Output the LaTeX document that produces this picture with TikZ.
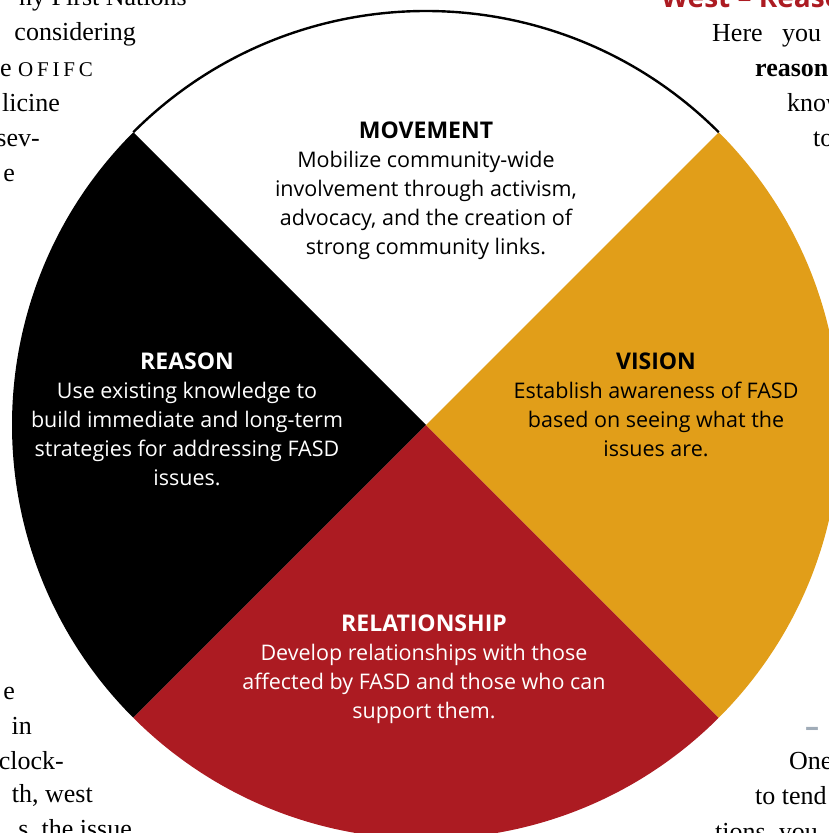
\documentclass[tikz,border=0pt]{standalone}
\usepackage{fontspec}
\usetikzlibrary{calc}
\setmainfont{Liberation Serif}
\newfontfamily\wheelfont{Open Sans}
\definecolor{wgold}{RGB}{225,158,25}
\definecolor{wred}{RGB}{172,27,34}
\definecolor{hred}{RGB}{172,27,34}
\definecolor{dashgray}{RGB}{160,172,184}
\newcommand{\wtitle}[1]{{\fontsize{23}{29}\selectfont\bfseries #1}}
\begin{document}
\begin{tikzpicture}[x=1pt,y=1pt,
  bgtext/.style={inner sep=0pt,font=\fontsize{26}{36}\selectfont},
  wtext/.style={inner sep=0pt,align=center,font=\wheelfont\fontsize{21.5}{29}\selectfont}]
\useasboundingbox (0,0) rectangle (829,833);
\coordinate (c) at (426,408);
\def\R{414}
% background page text (left column)
\node[bgtext,anchor=base east] (l1) at (187,827) {ny First Nations};
\node[bgtext,anchor=base east] (l2) at (136,792) {considering};
\node[bgtext,anchor=base east] (l3) at (93,756) {e {\fontsize{21}{21}\selectfont\addfontfeature{LetterSpace=18}OFIFC}};
\node[bgtext,anchor=base east] (l4) at (60,721) {licine};
\node[bgtext,anchor=base east] (l5) at (40,686) {sev-};
\node[bgtext,anchor=base east] (l6) at (15,651) {e};
\node[bgtext,anchor=base east] (l7) at (15,133) {e};
\node[bgtext,anchor=base east] (l8) at (32,98) {in};
\node[bgtext,anchor=base east] (l9) at (64,63) {clock-};
\node[bgtext,anchor=base east] (l10) at (93,30) {th, west};
\node[bgtext,anchor=base east] (l11) at (132,-5) {s, the issue};
% background page text (right column)
\node[inner sep=0pt,anchor=base west,text=hred,font=\wheelfont\bfseries\fontsize{28}{30}\selectfont] (r0) at (661,825) {West – Reason};
\node[bgtext,anchor=base west] (r1) at (712,791) {Here\ \ \ you};
\node[bgtext,anchor=base west] (r2) at (755,756) {\bfseries reason};
\node[bgtext,anchor=base west] (r3) at (787,721) {know};
\node[bgtext,anchor=base west] (r4) at (813,686) {to};
\node[inner sep=0pt,anchor=center,text=dashgray,font=\wheelfont\bfseries\fontsize{28}{30}\selectfont] (r5) at (812,101) {–};
\node[bgtext,anchor=base west] (r6) at (789,63) {One};
\node[bgtext,anchor=base west] (r7) at (755,28) {to tend};
\node[bgtext,anchor=base west] (r8) at (715,-7) {tions, you};
% wheel sectors
\fill[white] (c) -- ++(45:\R) arc[start angle=45,end angle=135,radius=\R] -- cycle;
\fill[black] (c) -- ++(135:\R) arc[start angle=135,end angle=225,radius=\R] -- cycle;
\fill[wred] (c) -- ++(225:\R) arc[start angle=225,end angle=315,radius=\R] -- cycle;
\fill[wgold] (c) -- ++(-45:\R) arc[start angle=-45,end angle=45,radius=\R] -- cycle;
\draw[line width=2.4pt] ($(c)+(45:\R)$) arc[start angle=45,end angle=135,radius=\R];
% wheel texts (anchor = baseline of last line)
\node[wtext,anchor=base,text=black] (mov) at (426,578)
  {\wtitle{MOVEMENT}\\Mobilize community-wide\\involvement through activism,\\advocacy, and the creation of\\strong community links.};
\node[wtext,anchor=base,text=white] (rea) at (187,347)
  {\wtitle{REASON}\\Use existing knowledge to\\build immediate and long-term\\strategies for addressing FASD\\issues.};
\node[wtext,anchor=base,text=black] (vis) at (656,376)
  {\wtitle{VISION}\\Establish awareness of FASD\\based on seeing what the\\issues are.};
\node[wtext,anchor=base,text=white] (rel) at (424,114)
  {\wtitle{RELATIONSHIP}\\Develop relationships with those\\affected by FASD and those who can\\support them.};
\end{tikzpicture}
\end{document}
